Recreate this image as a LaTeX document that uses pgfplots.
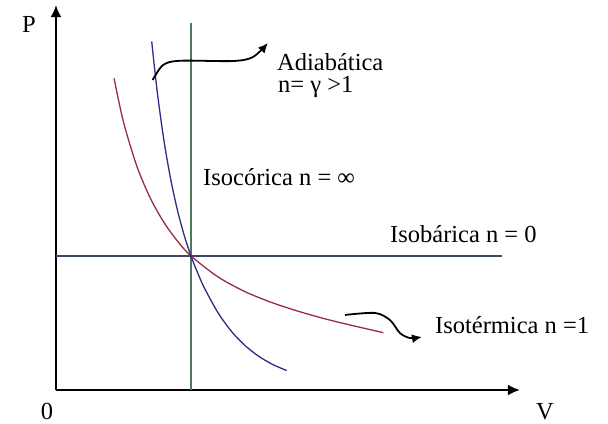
\documentclass[border=0pt]{standalone}
\usepackage{fontspec}
\setmainfont{Liberation Serif}
\usepackage{pgfplots}
\pgfplotsset{compat=1.18}
\usetikzlibrary{arrows.meta}

\definecolor{isored}{HTML}{9A2A48}
\definecolor{adiblue}{HTML}{2C2C8A}
\definecolor{isogreen}{HTML}{4E7A5C}
\definecolor{isoslate}{HTML}{3C4868}

\begin{document}
\begin{tikzpicture}[lbl/.style={font=\fontsize{24.5}{28}\selectfont, inner sep=0pt}]
\begin{axis}[
    scale only axis,
    width=464pt, height=385pt,
    xmin=0, xmax=3.437,
    ymin=0, ymax=2.873,
    axis lines=left,
    axis line style={line width=2.4pt, -{Latex[length=12pt,width=11pt]}},
    xtick=\empty, ytick=\empty,
    clip=false,
]
% isocorica (V constante) e isobarica (P constante)
\addplot[isogreen, line width=1.2pt] coordinates {(1,0) (1,2.739)};
\addplot[isoslate, line width=1.2pt] coordinates {(0,1) (3.304,1)};

% isotermica
\addplot[isored, line width=1.3pt, smooth] coordinates {
    (0.430,2.326) (0.500,2.000) (0.600,1.667) (0.700,1.429) (0.800,1.250)
    (0.900,1.111) (1.000,1.000) (1.200,0.844) (1.400,0.734) (1.600,0.652)
    (1.800,0.586) (2.000,0.529) (2.200,0.480) (2.424,0.428)
};

% adiabatica
\addplot[adiblue, line width=1.3pt, smooth] coordinates {
    (0.709,2.601) (0.750,2.225) (0.800,1.859) (0.850,1.571) (0.900,1.340)
    (0.950,1.153) (1.000,1.000) (1.050,0.872) (1.100,0.760) (1.200,0.577)
    (1.300,0.437) (1.400,0.332) (1.500,0.253) (1.600,0.193) (1.709,0.145)
};

% flechas de las etiquetas
\addplot[black, line width=1.8pt, smooth, -{Latex[length=10pt,width=9pt]}] coordinates {
    (0.716,2.313) (0.793,2.425) (0.919,2.457) (1.311,2.455) (1.459,2.485) (1.570,2.590)
};
\addplot[black, line width=1.8pt, smooth, -{Latex[length=10pt,width=9pt]}] coordinates {
    (2.141,0.560) (2.363,0.575) (2.474,0.522) (2.548,0.425) (2.622,0.388) (2.711,0.396)
};

\node[lbl, anchor=west] at (axis cs:1.637,2.450) {Adiabática};
\node[lbl, anchor=west] at (axis cs:1.644,2.262) {n= γ >1};
\node[lbl, anchor=west] at (axis cs:1.089,1.590) {Isocórica n = ∞};
\node[lbl, anchor=west] at (axis cs:2.474,1.164) {Isobárica n = 0};
\node[lbl, anchor=west] at (axis cs:2.807,0.485) {Isotérmica n =1};

\node[lbl] at (axis cs:-0.200,2.731) {P};
\node[lbl] at (axis cs:3.622,-0.164) {V};
\node[lbl] at (axis cs:-0.067,-0.157) {0};

\path (axis cs:-0.4148,-0.2537) rectangle (axis cs:4.0889,2.9104);
\end{axis}
\end{tikzpicture}
\end{document}
